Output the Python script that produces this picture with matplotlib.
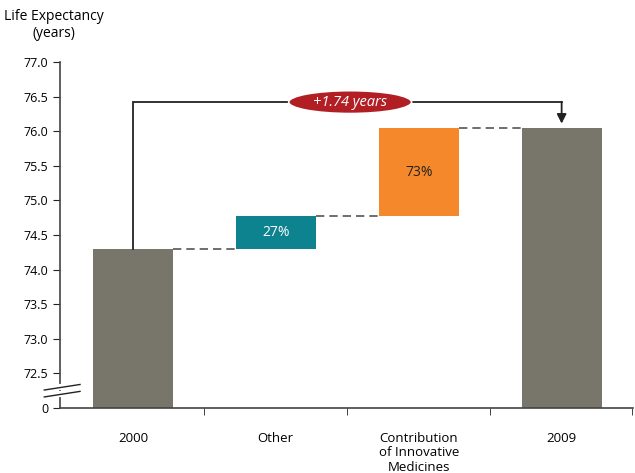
import numpy as np
import matplotlib
matplotlib.use("Agg")
import matplotlib.pyplot as plt
from matplotlib.patches import Ellipse

# waterfall data (years)
categories = ["2000", "Other", "Contribution\nof Innovative\nMedicines", "2009"]
start_value = 74.30
deltas = [0.47, 1.27]          # Other, Innovative medicines
shares = ["27%", "73%"]
end_value = 76.04
total_label = "+1.74 years"

yticks = [72.0, 72.5, 73.0, 73.5, 74.0, 74.5, 75.0, 75.5, 76.0, 76.5, 77.0]
ytick_labels = ["0", "72.5", "73.0", "73.5", "74.0", "74.5", "75.0", "75.5", "76.0", "76.5", "77.0"]

GREY = "#78766a"
TEAL = "#0d8390"
ORANGE = "#f5882a"
RED = "#b11e24"
BASE = 72.0

plt.rcParams["font.family"] = ["Open Sans", "DejaVu Sans"]

fig = plt.figure(figsize=(6.35, 4.73), dpi=100)
ax = fig.add_axes([0.0945, 0.1374, 0.9025, 0.7316])

x = np.arange(len(categories))
w = 0.56

# bars
bottoms = [BASE, start_value, start_value + deltas[0], BASE]
tops = [start_value, start_value + deltas[0], start_value + deltas[0] + deltas[1], end_value]
colors = [GREY, TEAL, ORANGE, GREY]
for xi, b, t, c in zip(x, bottoms, tops, colors):
    ax.bar(xi, t - b, bottom=b, width=w, color=c, edgecolor="none", zorder=2)

# share labels
for i, s in enumerate(shares):
    xi = x[i + 1]
    ax.text(xi, (bottoms[i + 1] + tops[i + 1]) / 2, s, ha="center", va="center",
            color="white" if i == 0 else "#222222", fontsize=10)

# dashed connectors
for i in range(len(x) - 1):
    ax.plot([x[i] + w / 2, x[i + 1] - w / 2], [tops[i], tops[i]],
            color="#555555", lw=1.2, ls=(0, (5, 3)), zorder=1)

# total arrow
y_arc = 76.42
ax.plot([x[0], x[0], x[3]], [start_value, y_arc, y_arc], color="#222222", lw=1.3,
        solid_joinstyle="miter", zorder=3)
ax.annotate("", xy=(x[3], end_value + 0.07), xytext=(x[3], y_arc),
            arrowprops=dict(arrowstyle="-|>,head_width=0.28,head_length=0.55",
                            color="#222222", lw=1.3, shrinkA=0, shrinkB=0), zorder=3)
ell = Ellipse((1.52, y_arc), 0.86, 0.33, facecolor=RED, edgecolor="white", lw=1.2, zorder=4)
ax.add_patch(ell)
ax.text(1.52, y_arc, total_label, ha="center", va="center", color="white",
        fontsize=10.5, style="italic", zorder=5)

ax.set_xlim(-0.51, 3.5)
ax.set_ylim(BASE, 77.0)
ax.set_yticks(yticks)
ax.set_yticklabels(ytick_labels)
ax.set_xticks([0.5, 1.5, 2.5, 3.49], minor=True)
ax.set_xticks(x)
ax.set_xticklabels(categories, fontsize=9.5, va="top", linespacing=1.18)
ax.tick_params(axis="x", which="major", length=0, pad=17)
ax.tick_params(axis="x", which="minor", length=5, direction="out", color="#222222")
ax.tick_params(axis="y", length=5, direction="out", labelsize=9, color="#222222")
for side in ["top", "right"]:
    ax.spines[side].set_visible(False)
for side in ["left", "bottom"]:
    ax.spines[side].set_color("#444444")
    ax.spines[side].set_linewidth(1.2)

# axis break marks
for yb in [72.30, 72.20]:
    ax.plot([-0.62, -0.37], [yb - 0.04, yb + 0.04], color="#222222", lw=1.0,
            clip_on=False, zorder=5)
    ax.plot([-0.51, -0.51], [yb - 0.015, yb + 0.015], color="white", lw=3,
            clip_on=False, zorder=4)

fig.text(0.085, 0.982, "Life Expectancy\n(years)", ha="center", va="top",
         fontsize=10, linespacing=1.2)

fig.savefig("out.png", dpi=100)
